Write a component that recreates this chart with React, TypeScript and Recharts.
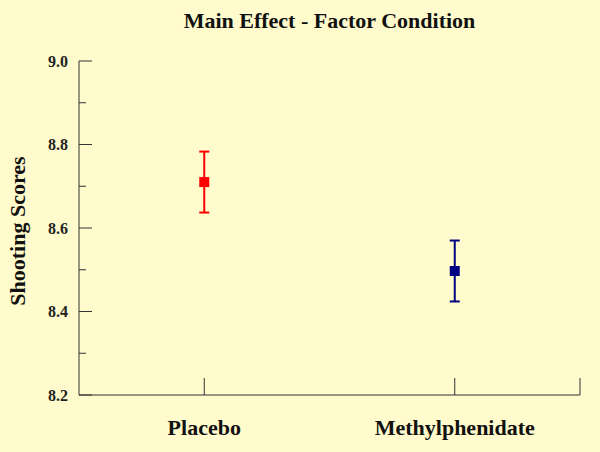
import { ScatterChart, Scatter, XAxis, YAxis, ErrorBar } from 'recharts';

const categories = ['Placebo', 'Methylphenidate'];
const positions = [0.5, 1.5];
const means = [8.71, 8.497];
const errors = [0.073, 0.073];
const colors = ['#ff0000', '#000080'];

const yTicks = [8.2, 8.3, 8.4, 8.5, 8.6, 8.7, 8.8, 8.9, 9.0];
const yLabels = [8.2, 8.4, 8.6, 8.8, 9.0];
const xTicks = [0.5, 1.5, 2];

const FONT = '"Liberation Serif", "Times New Roman", serif';
const PLOT_LEFT = 79;
const PLOT_BOTTOM = 395;

const series = categories.map((name, i) => ({
  name,
  color: colors[i],
  data: [{ x: positions[i], y: means[i], err: errors[i] }],
}));

function YTick(props: any) {
  const { y, payload } = props;
  const major = yLabels.some((v) => Math.abs(v - payload.value) < 1e-6);
  return (
    <g>
      <line x1={PLOT_LEFT} x2={PLOT_LEFT + (major ? 13 : 7)} y1={y} y2={y} stroke="#333" strokeWidth={1} />
      {major && (
        <text x={68} y={y} dy="0.35em" textAnchor="end" fontFamily={FONT} fontWeight="bold" fontSize={16} fill="#222">
          {payload.value.toFixed(1)}
        </text>
      )}
    </g>
  );
}

function XTick(props: any) {
  const { x, payload } = props;
  const idx = positions.indexOf(payload.value);
  return (
    <g>
      <line x1={x} x2={x} y1={PLOT_BOTTOM} y2={PLOT_BOTTOM - 17} stroke="#333" strokeWidth={1} />
      {idx >= 0 && (
        <text x={x} y={PLOT_BOTTOM + 40} textAnchor="middle" fontFamily={FONT} fontWeight="bold" fontSize={22} fill="#111">
          {categories[idx]}
        </text>
      )}
    </g>
  );
}

function Square(props: any) {
  const { cx, cy, fill } = props;
  return <rect x={cx - 5} y={cy - 5} width={10} height={10} fill={fill} />;
}

export default function App() {
  return (
    <div style={{ position: 'absolute', left: 0, top: 0, width: 600, height: 452, background: '#fffbcc', fontFamily: FONT }}>
      <div style={{ position: 'absolute', top: 8, left: 79, width: 501, textAlign: 'center', fontWeight: 'bold', fontSize: 22, color: '#111' }}>
        Main Effect - Factor Condition
      </div>
      <div
        style={{
          position: 'absolute',
          left: 18,
          top: 231,
          transform: 'translate(-50%, -50%) rotate(-90deg)',
          whiteSpace: 'nowrap',
          fontWeight: 'bold',
          fontSize: 22,
          color: '#111',
        }}
      >
        Shooting Scores
      </div>
      <ScatterChart width={600} height={452} margin={{ top: 61, right: 20, bottom: 0, left: 0 }}>
        <XAxis
          type="number"
          dataKey="x"
          domain={[0, 2]}
          ticks={xTicks}
          tick={<XTick />}
          tickLine={false}
          axisLine={{ stroke: '#333' }}
          height={57}
          interval={0}
        />
        <YAxis
          type="number"
          dataKey="y"
          domain={[8.2, 9.0]}
          ticks={yTicks}
          tick={<YTick />}
          tickLine={false}
          axisLine={{ stroke: '#333' }}
          width={79}
          interval={0}
        />
        {series.map((s) => (
          <Scatter key={s.name} name={s.name} data={s.data} fill={s.color} shape={<Square />} isAnimationActive={false}>
            <ErrorBar dataKey="err" direction="y" width={5} stroke={s.color} strokeWidth={2} />
          </Scatter>
        ))}
      </ScatterChart>
    </div>
  );
}
